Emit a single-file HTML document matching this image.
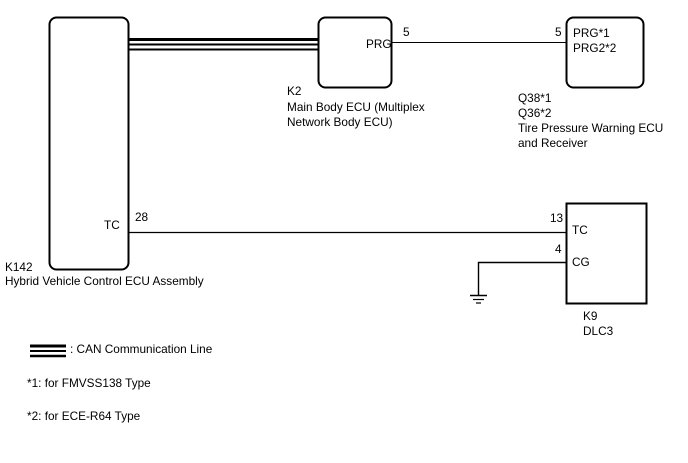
<!DOCTYPE html>
<html><head><style>
html,body{margin:0;padding:0;background:#fff;}
svg{display:block;}
text{font-family:"Liberation Sans",Arial,sans-serif;font-size:11.8px;fill:#000;}
</style></head><body>
<svg width="688" height="463" viewBox="0 0 688 463" xmlns="http://www.w3.org/2000/svg">
<g fill="none" stroke="#000">
<rect x="49.5" y="17.5" width="79" height="252" rx="7" stroke-width="2"/>
<rect x="318.5" y="17.5" width="73" height="70" rx="7" stroke-width="2"/>
<rect x="566.5" y="17.5" width="77" height="70" rx="7" stroke-width="2"/>
<rect x="566.5" y="203.5" width="80" height="100" stroke-width="2"/>
<line x1="129" y1="39.5" x2="318" y2="39.5" stroke-width="3"/>
<line x1="129" y1="44.5" x2="318" y2="44.5" stroke-width="2"/>
<line x1="129" y1="49.5" x2="318" y2="49.5" stroke-width="2"/>
<line x1="392" y1="42.5" x2="566" y2="42.5" stroke-width="1"/>
<line x1="129" y1="232.5" x2="566" y2="232.5" stroke-width="1.2"/>
<polyline points="566,262.5 478.5,262.5 478.5,295" stroke-width="1.4"/>
<line x1="470" y1="295.5" x2="487" y2="295.5" stroke-width="1.5"/>
<line x1="473" y1="299.5" x2="484" y2="299.5" stroke-width="1.2"/>
<line x1="476" y1="303" x2="481" y2="303" stroke-width="1.2"/>
<line x1="30" y1="346" x2="66" y2="346" stroke-width="3"/>
<line x1="30" y1="351" x2="66" y2="351" stroke-width="2"/>
<line x1="30" y1="356" x2="66" y2="356" stroke-width="2.5"/>
</g>
<text x="366" y="48">PRG</text>
<text x="403" y="36">5</text>
<text x="555" y="36">5</text>
<text x="573" y="37">PRG*1</text>
<text x="573" y="52">PRG2*2</text>
<text x="287" y="95">K2</text>
<text x="287" y="111">Main Body ECU (Multiplex</text>
<text x="287" y="126">Network Body ECU)</text>
<text x="518" y="102">Q38*1</text>
<text x="518" y="117">Q36*2</text>
<text x="518" y="132">Tire Pressure Warning ECU</text>
<text x="518" y="147">and Receiver</text>
<text x="104" y="229">TC</text>
<text x="135" y="221">28</text>
<text x="550" y="222">13</text>
<text x="572" y="234">TC</text>
<text x="555" y="253">4</text>
<text x="572" y="266">CG</text>
<text x="583" y="320">K9</text>
<text x="583" y="335">DLC3</text>
<text x="5" y="271">K142</text>
<text x="5" y="285">Hybrid Vehicle Control ECU Assembly</text>
<text x="70" y="353">: CAN Communication Line</text>
<text x="27" y="387">*1: for FMVSS138 Type</text>
<text x="27" y="420">*2: for ECE-R64 Type</text>
</svg>
</body></html>
